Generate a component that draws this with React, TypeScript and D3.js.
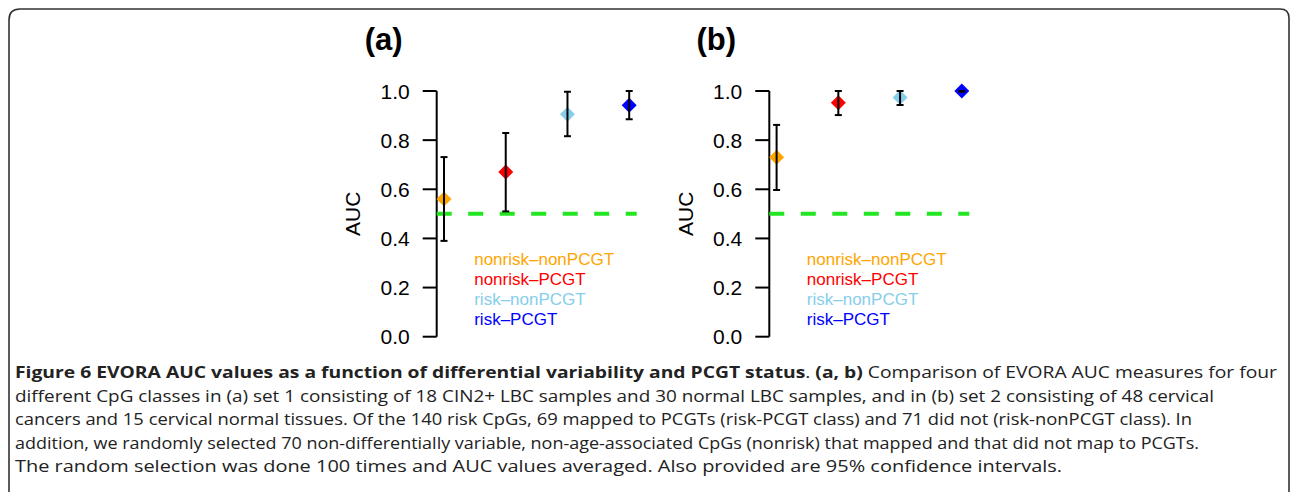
import React from "react";
import * as d3 from "d3";

const categories = ["nonrisk–nonPCGT", "nonrisk–PCGT", "risk–nonPCGT", "risk–PCGT"];
const colors = ["#FFA500", "#FF0000", "#87CEEB", "#0000FF"];

const panelLabels = ["(a)", "(b)"];
const aucA = [0.56, 0.67, 0.905, 0.942];
const lowA = [0.39, 0.51, 0.816, 0.885];
const highA = [0.731, 0.829, 0.997, 1.0];
const aucB = [0.73, 0.952, 0.974, 1.0];
const lowB = [0.597, 0.902, 0.943, 0.997];
const highB = [0.862, 1.0, 1.0, 1.0];
const yTicks = [0.0, 0.2, 0.4, 0.6, 0.8, 1.0];
const chanceLevel = 0.5;

const panels = [
  { label: panelLabels[0], auc: aucA, low: lowA, high: highA, axisX: 436.7 },
  { label: panelLabels[1], auc: aucB, low: lowB, high: highB, axisX: 769.3 },
];

const captionLines: { text: string; bold: boolean }[][] = [
  [
    { text: "Figure 6 EVORA AUC values as a function of differential variability and PCGT status", bold: true },
    { text: ". ", bold: false },
    { text: "(a, b)", bold: true },
    { text: " Comparison of EVORA AUC measures for four", bold: false },
  ],
  [{ text: "different CpG classes in (a) set 1 consisting of 18 CIN2+ LBC samples and 30 normal LBC samples, and in (b) set 2 consisting of 48 cervical", bold: false }],
  [{ text: "cancers and 15 cervical normal tissues. Of the 140 risk CpGs, 69 mapped to PCGTs (risk-PCGT class) and 71 did not (risk-nonPCGT class). In", bold: false }],
  [{ text: "addition, we randomly selected 70 non-differentially variable, non-age-associated CpGs (nonrisk) that mapped and that did not map to PCGTs.", bold: false }],
  [{ text: "The random selection was done 100 times and AUC values averaged. Also provided are 95% confidence intervals.", bold: false }],
];
const captionEnds = [1277, 1214, 1192, 1199, 1062];

const W = 1290;
const H = 492;
const FONT = "'Liberation Sans', Arial, Helvetica, sans-serif";
const CAPFONT = "'Open Sans', 'Noto Sans', sans-serif";

function Panel({ p }: { p: (typeof panels)[number] }) {
  const y = d3.scaleLinear().domain([0, 1]).range([336.7, 91]);
  const x = d3
    .scalePoint<string>()
    .domain(categories)
    .range([p.axisX + 7.3, p.axisX + 192.5]);
  const ds = 7.5;
  const cap = 3.5;
  return (
    <g>
      <text
        x={p.axisX - 53}
        y={50}
        textAnchor="middle"
        fontFamily={FONT}
        fontWeight="bold"
        fontSize={31}
        fill="#000"
      >
        {p.label}
      </text>
      {/* axis */}
      <line x1={p.axisX} x2={p.axisX} y1={y(0)} y2={y(1)} stroke="#000" strokeWidth={2} />
      {yTicks.map((t) => (
        <g key={t}>
          <line x1={p.axisX - 14} x2={p.axisX} y1={y(t)} y2={y(t)} stroke="#000" strokeWidth={2} />
          <text
            x={p.axisX - 27}
            y={y(t)}
            dy="0.36em"
            textAnchor="end"
            fontFamily={FONT}
            fontSize={21}
            fill="#000"
          >
            {t.toFixed(1)}
          </text>
        </g>
      ))}
      <text
        transform={`translate(${p.axisX - 84},${y(0.5)}) rotate(-90)`}
        textAnchor="middle"
        dy="0.36em"
        fontFamily={FONT}
        fontSize={21}
        fill="#000"
      >
        AUC
      </text>
      {/* chance line */}
      <line
        x1={p.axisX}
        x2={p.axisX + 200}
        y1={y(chanceLevel)}
        y2={y(chanceLevel)}
        stroke="#22e622"
        strokeWidth={4}
        strokeDasharray="15 16.5"
      />
      {/* points */}
      {categories.map((c, i) => {
        const cx = x(c)!;
        const cy = y(p.auc[i]);
        return (
          <path
            key={"d" + c}
            d={`M${cx},${cy - ds}L${cx + ds},${cy}L${cx},${cy + ds}L${cx - ds},${cy}Z`}
            fill={colors[i]}
          />
        );
      })}
      {categories.map((c, i) => {
        const cx = x(c)!;
        const y1 = y(p.high[i]);
        const y2 = y(p.low[i]);
        return (
          <g key={"e" + c} stroke="#000" strokeWidth={2}>
            <line x1={cx} x2={cx} y1={y1} y2={y2} />
            <line x1={cx - cap} x2={cx + cap} y1={y1} y2={y1} />
            <line x1={cx - cap} x2={cx + cap} y1={y2} y2={y2} />
          </g>
        );
      })}
      {/* legend */}
      {categories.map((c, i) => (
        <text
          key={"l" + c}
          x={p.axisX + 37.5}
          y={259.3 + i * 20}
          dy="0.36em"
          fontFamily={FONT}
          fontSize={17}
          fill={colors[i]}
        >
          {c}
        </text>
      ))}
    </g>
  );
}

export default function App() {
  return (
    <svg
      width={W}
      height={H}
      viewBox={`0 0 ${W} ${H}`}
      style={{ position: "absolute", left: 0, top: 0, background: "#fff", display: "block" }}
    >
      <rect x={0} y={0} width={W} height={H} fill="#fff" />
      <path
        d={`M9,${H + 5}L9,20Q9,9 20,9L1280,9Q1289,9 1289,18L1289,${H + 5}`}
        fill="none"
        stroke="#333"
        strokeWidth={1.6}
      />
      {panels.map((p) => (
        <Panel key={p.label} p={p} />
      ))}
      {captionLines.map((segs, li) => (
        <text
          key={li}
          x={15}
          y={378 + li * 23.5}
          fontFamily={CAPFONT}
          fontSize={16.5}
          fill="#222"
          textLength={captionEnds[li] - 15}
          lengthAdjust="spacingAndGlyphs"
        >
          {segs.map((s, si) => (
            <tspan key={si} fontWeight={s.bold ? "bold" : "normal"}>
              {s.text}
            </tspan>
          ))}
        </text>
      ))}
    </svg>
  );
}
